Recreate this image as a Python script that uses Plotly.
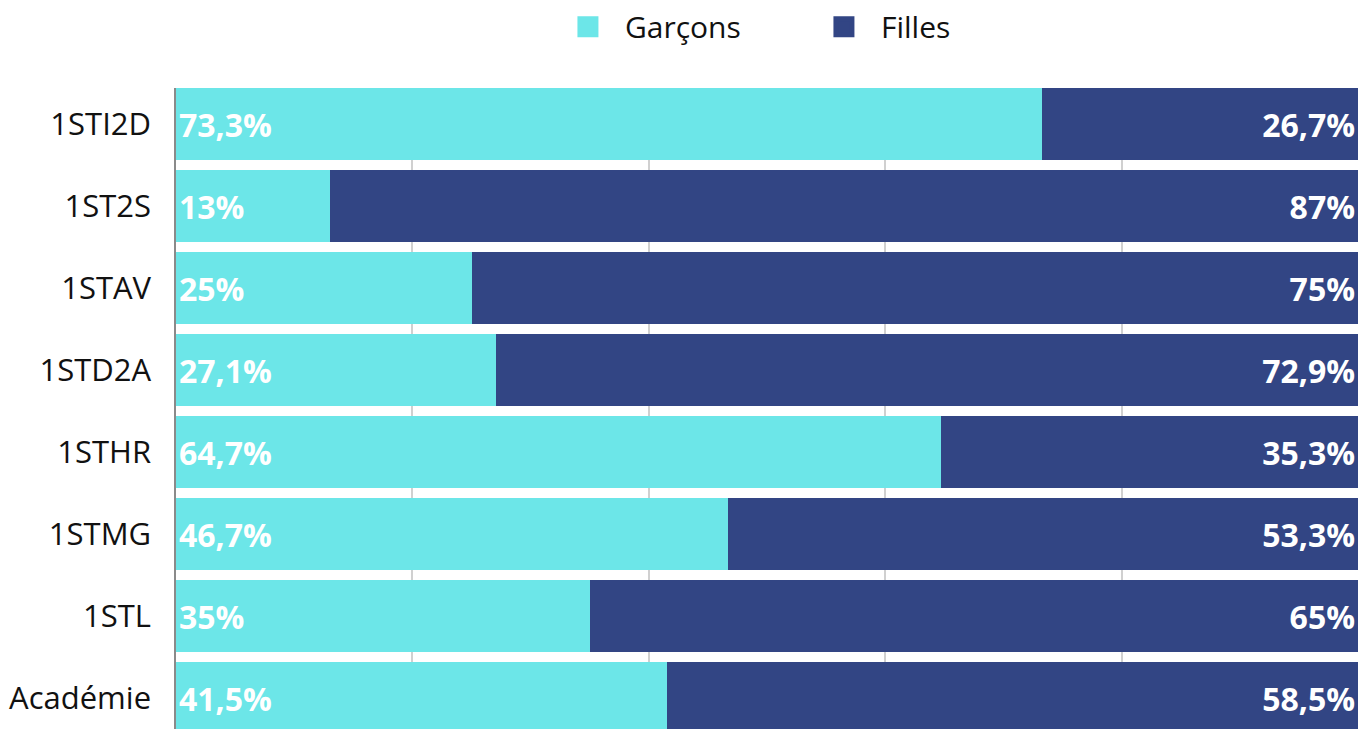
import plotly.graph_objects as go

categories = ["1STI2D", "1ST2S", "1STAV", "1STD2A", "1STHR", "1STMG", "1STL", "Académie"]
garcons = [73.3, 13, 25, 27.1, 64.7, 46.7, 35, 41.5]
filles = [26.7, 87, 75, 72.9, 35.3, 53.3, 65, 58.5]
series_names = ["Garçons", "Filles"]
colors = ["#6ce6e8", "#324584"]


def fmt(v):
    return f"{v:g}".replace(".", ",") + "%"


fig = go.Figure()
for name, vals, col, anchor in [
    (series_names[0], garcons, colors[0], "start"),
    (series_names[1], filles, colors[1], "end"),
]:
    fig.add_trace(go.Bar(
        y=categories, x=vals, orientation="h", name=name,
        marker=dict(color=col, line=dict(width=0)),
        text=[fmt(v) for v in vals], textposition="inside",
        insidetextanchor=anchor, constraintext="none",
        textfont=dict(family="Open Sans", size=32, color="white", weight="bold"),
        showlegend=False, hoverinfo="skip",
    ))
    fig.add_trace(go.Scatter(
        x=[None], y=[None], mode="markers", name=name,
        marker=dict(symbol="square", size=16, color=col,
                    line=dict(width=6, color=col)),
    ))

fig.update_layout(
    width=1358, height=729,
    margin=dict(l=176, r=0, t=88, b=0),
    barmode="stack", bargap=0.12,
    plot_bgcolor="white", paper_bgcolor="white",
    font=dict(family="Open Sans", color="#111111"),
    legend=dict(orientation="h", x=0.4057, xanchor="left", xref="container",
                y=0.999, yanchor="top", yref="container", traceorder="normal",
                font=dict(size=30, family="Open Sans", color="#111111"),
                itemwidth=64, entrywidth=177),
    xaxis=dict(range=[0, 100], showticklabels=False, showgrid=True,
               gridcolor="#d0d0d0", gridwidth=1.5, dtick=20, zeroline=False,
               showline=False, ticks=""),
    yaxis=dict(range=[7.378, -0.439], type="category", showline=True,
               linecolor="#8a8a8a", linewidth=1.5, ticks="",
               ticklabelstandoff=17, tickfont=dict(size=31, color="#111111",
                                                    family="Open Sans"),
               showgrid=False),
)

fig.write_html("out.html", config={"displayModeBar": False},
               post_script="document.body.style.margin='0';")
